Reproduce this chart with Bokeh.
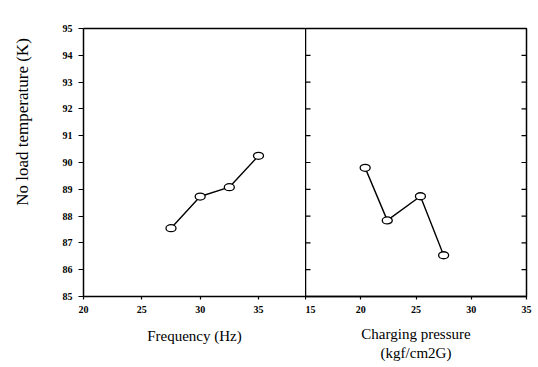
import math
from bokeh.plotting import figure
from bokeh.layouts import row
from bokeh.models import Range1d, FixedTicker, LinearAxis
from bokeh.core.properties import value
from bokeh.embed import file_html
from bokeh.resources import INLINE

# ---- data ----
freq_hz = [27.5, 30.0, 32.5, 35.0]
freq_temp = [87.55, 88.73, 89.08, 90.25]
press_kgf = [20.4, 22.4, 25.4, 27.5]
press_temp = [89.8, 87.84, 88.74, 86.54]
y_ticks = list(range(85, 96))
freq_ticks = [20, 25, 30, 35]
press_ticks = [15, 20, 25, 30, 35]
press_edges = [15, 35]
y_title = "No load temperature (K)"

FONT = "Liberation Serif"
H = 367
TOP = 28
BOTTOM = 71
LABEL_W = 40


def style_common(p):
    p.xgrid.visible = False
    p.ygrid.visible = False
    p.outline_line_color = "black"
    p.outline_line_width = 1.5
    p.background_fill_color = "white"
    p.border_fill_color = "white"


def style_axis(ax):
    ax.axis_line_color = "black"
    ax.axis_line_width = 1.5
    ax.major_tick_line_color = "black"
    ax.major_tick_line_width = 1.2
    ax.minor_tick_line_color = None
    ax.major_tick_in = 0
    ax.major_label_text_font = FONT
    ax.major_label_text_font_style = "bold"
    ax.major_label_text_font_size = "10px"
    ax.major_label_text_color = "black"
    ax.axis_label_text_font = FONT
    ax.axis_label_text_font_style = "normal"
    ax.axis_label_text_font_size = "15px"
    ax.axis_label_text_color = "black"


# ---- strip holding the vertical y-axis title ----
p0 = figure(width=LABEL_W, height=H, output_backend="svg", toolbar_location=None,
            x_range=Range1d(0, 1), y_range=Range1d(0, 1),
            x_axis_location=None, y_axis_location=None,
            min_border=0)
p0.xgrid.visible = False
p0.ygrid.visible = False
p0.outline_line_color = None
p0.border_fill_color = "white"
p0.background_fill_color = "white"
p0.text(x=[22 / LABEL_W], y=[1 - 128 / H], text=[y_title], angle=math.pi / 2,
        text_align="center", text_baseline="middle",
        text_font=value(FONT), text_font_size="17px", text_color="black")

# ---- left panel: frequency ----
p1 = figure(width=305 - LABEL_W, height=H, output_backend="svg",
            toolbar_location=None,
            x_range=Range1d(20, 39.03), y_range=Range1d(85, 95),
            min_border_left=83 - LABEL_W, min_border_right=0,
            min_border_top=TOP, min_border_bottom=BOTTOM)
style_common(p1)
p1.outline_line_color = None  # right edge comes from the right panel's frame
xa = p1.xaxis[0]
xa.ticker = FixedTicker(ticks=freq_ticks)
xa.axis_label = "Frequency (Hz)"
ya = p1.yaxis[0]
ya.ticker = FixedTicker(ticks=y_ticks)
for ax in (xa, ya):
    style_axis(ax)
xa.major_tick_out = 3
xa.major_label_standoff = 6
xa.axis_label_standoff = 12
ya.major_tick_out = 5
ya.major_label_standoff = 6

top_axis = LinearAxis(ticker=FixedTicker(ticks=[]))
top_axis.axis_line_color = "black"
top_axis.axis_line_width = 1.5
top_axis.major_tick_line_color = None
top_axis.minor_tick_line_color = None
p1.add_layout(top_axis, "above")

p1.line(freq_hz, freq_temp, line_color="black", line_width=1.4)
p1.ellipse(freq_hz, freq_temp, width=10, height=7, width_units="screen",
           height_units="screen", fill_color="white", line_color="black",
           line_width=1.3)

# ---- right panel: charging pressure ----
p2 = figure(width=233, height=H, output_backend="svg", toolbar_location=None,
            x_range=Range1d(15, 35), y_range=Range1d(85, 95),
            y_axis_location=None,
            min_border_left=0, min_border_right=12,
            min_border_top=TOP, min_border_bottom=BOTTOM)
style_common(p2)
xb = p2.xaxis[0]
xb.ticker = FixedTicker(ticks=press_ticks)
xb.axis_label = "Charging pressure\n(kgf/cm2G)"
style_axis(xb)
xb.major_tick_out = 3
xb.major_label_standoff = 6
xb.axis_label_standoff = 10

# inward tick marks on the divider and on the right border (half clipped by frame)
for xe in press_edges:
    p2.scatter([xe] * len(y_ticks), y_ticks, marker="dash", size=10,
               line_color="black", line_width=1.2)

p2.line(press_kgf, press_temp, line_color="black", line_width=1.4)
p2.ellipse(press_kgf, press_temp, width=10, height=7, width_units="screen",
           height_units="screen", fill_color="white", line_color="black",
           line_width=1.3)

layout = row(p0, p1, p2)
open("out.html", "w").write(file_html(layout, INLINE))
